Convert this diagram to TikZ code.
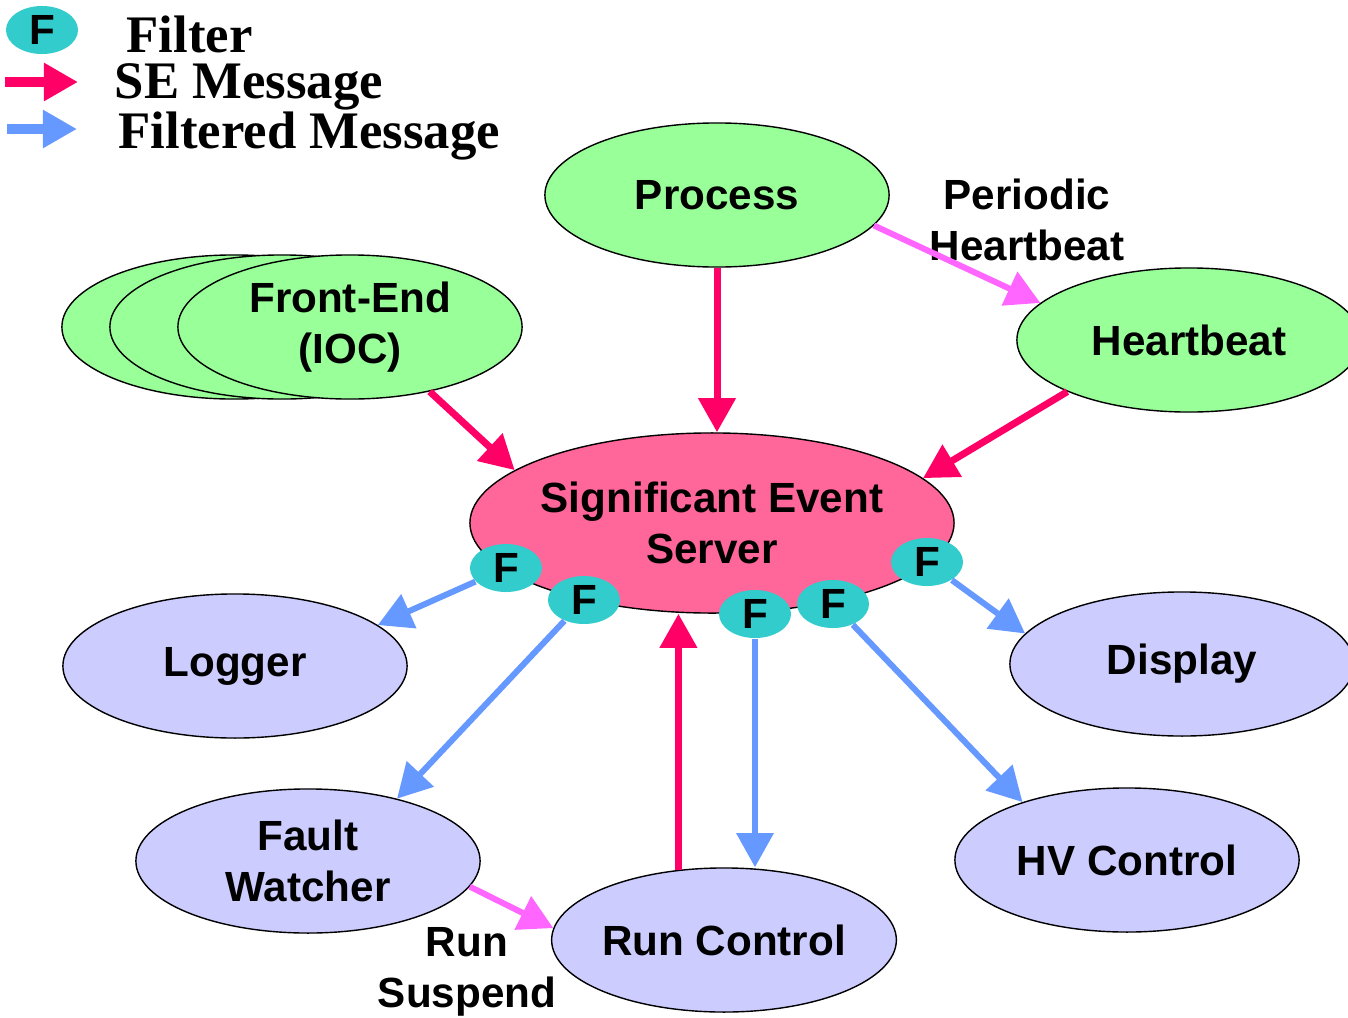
\documentclass[tikz,border=0pt]{standalone}
\usepackage{fontspec}
\setmainfont{Liberation Sans}
\newfontfamily\legendfont{Liberation Serif}
\usetikzlibrary{arrows.meta, shapes.geometric}

\definecolor{srcgreen}{HTML}{99FF99}
\definecolor{sespink}{HTML}{FF6699}
\definecolor{sinkblue}{HTML}{CCCCFF}
\definecolor{filtercyan}{HTML}{33CCCC}
\definecolor{msgred}{HTML}{FF0066}
\definecolor{msgmagenta}{HTML}{FF66FF}
\definecolor{msgblue}{HTML}{6699FF}

\begin{document}
\begin{tikzpicture}[
    x=0.01cm, y=-0.01cm,
    oval/.style={ellipse, draw=black, line width=0.4pt, minimum width=3.44cm, minimum height=1.44cm,
                 inner sep=0pt, align=center, font=\fontsize{12}{14.5}\selectfont\bfseries},
    source/.style={oval, fill=srcgreen},
    sink/.style={oval, fill=sinkblue},
    filter/.style={ellipse, fill=filtercyan, minimum width=0.72cm, minimum height=0.48cm,
                   inner sep=0pt, font=\fontsize{12}{14.5}\selectfont\bfseries},
    labelstyle/.style={align=center, font=\fontsize{12}{14.5}\selectfont\bfseries},
    legendtext/.style={anchor=base west, inner sep=0pt, font=\fontsize{15}{18}\selectfont\legendfont\bfseries},
    tip/.style={-{Triangle[length=0.34cm,width=0.36cm]}},
    semsg/.style={tip, line width=0.07cm, draw=msgred},
    filtmsg/.style={tip, line width=0.06cm, draw=msgblue},
    ctrlmsg/.style={tip, line width=0.06cm, draw=msgmagenta}
]
\useasboundingbox (0,0) rectangle (1348,1018);

% ==================== LEGEND ====================
\node[filter] (key-filter) at (42,30) {F};
\node[legendtext] (key-filter-text) at (126,52) {Filter};
\coordinate (key-se-a) at (5,82);
\coordinate (key-se-b) at (78,82);
\draw[semsg, line width=0.09cm] (key-se-a) -- (key-se-b);
\node[legendtext] (key-se-text) at (114,98) {SE Message};
\coordinate (key-filt-a) at (7,129);
\coordinate (key-filt-b) at (77,129);
\draw[filtmsg, line width=0.09cm] (key-filt-a) -- (key-filt-b);
\node[legendtext] (key-filt-text) at (118,148) {Filtered Message};

% ==================== SOURCES ====================
\node[source] (process) at (717,195) {Process};
\node[source] (frontend-3) at (234,327) {};
\node[source] (frontend-2) at (282,327) {};
\node[source] (frontend) at (350,327) {Front-End\\(IOC)};
\node[source] (heartbeat) at (1189,340) {Heartbeat};

% ==================== SERVER ====================
\node[oval, fill=sespink, minimum width=4.7cm, minimum height=1.8cm] (ses) at (712,523)
    {Significant Event\\Server};

% ==================== FILTERS ====================
\node[filter] (f1) at (506,568) {F};
\node[filter] (f2) at (584,600) {F};
\node[filter] (f3) at (755,614) {F};
\node[filter] (f4) at (833,604) {F};
\node[filter] (f5) at (927,562) {F};

% ==================== CLIENTS ====================
\node[sink] (logger) at (235,666) {Logger};
\node[sink] (display) at (1182,664) {Display};
\node[sink] (fault) at (308,861) {Fault\\Watcher};
\node[sink] (runctrl) at (724,940) {Run Control};
\node[sink] (hvctrl) at (1127,860) {HV Control};

% ==================== LABELS ====================
\node[labelstyle] (periodic) at (1027,220) {Periodic\\Heartbeat};
\node[labelstyle] (suspend) at (467,972) {Run\\Suspend};

% ==================== ARROWS ====================
% SE messages into the server
\draw[semsg] (process.south) -- (process.south |- ses.north);
\draw[semsg] (frontend.-39) -- (ses.165);
\draw[semsg] (heartbeat.203) -- (ses.12);
\draw[semsg] (runctrl.123) -- (runctrl.123 |- ses.south);

% Control messages
\draw[ctrlmsg] (process.-11) -- (heartbeat.166);
\draw[ctrlmsg] (fault.-9) -- (runctrl.176);

% Filtered messages out of the server
\draw[filtmsg] (f1) -- (logger.16);
\draw[filtmsg] (f2) -- (fault.35);
\draw[filtmsg] (f3.south) -- (f3.south |- runctrl.north);
\draw[filtmsg] (f4) -- (hvctrl.151);
\draw[filtmsg] (f5) -- (display.169);

\end{tikzpicture}
\end{document}
